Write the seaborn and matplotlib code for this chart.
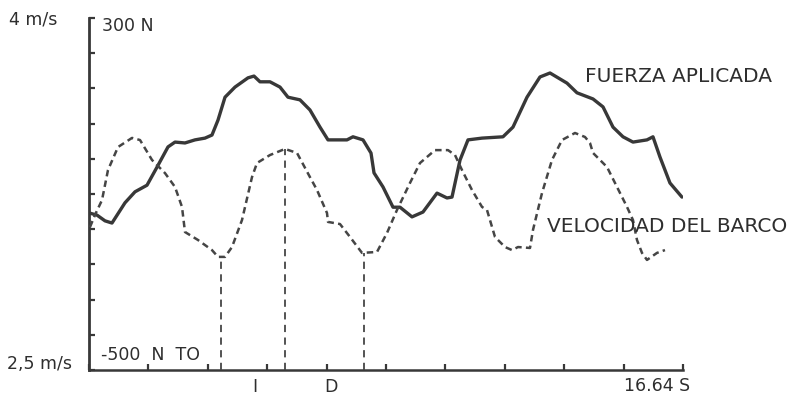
import numpy as np
import matplotlib
matplotlib.use("Agg")
import matplotlib.pyplot as plt
import seaborn as sns

sns.set_theme(style="white")
plt.rcParams['font.family'] = ['DejaVu Sans']

# force curve (s, N)
force_t = [0.00, 0.224, 0.448, 0.644, 1.008, 1.289, 1.625, 1.905, 2.213, 2.409,
           2.689, 2.969, 3.249, 3.445, 3.614, 3.810, 4.090, 4.454, 4.622, 4.790,
           5.070, 5.350, 5.574, 5.910, 6.190, 6.471, 6.695, 6.975, 7.227, 7.395,
           7.676, 7.900, 7.984, 8.236, 8.516, 8.712, 9.048, 9.356, 9.749, 10.029,
           10.169, 10.393, 10.617, 11.009, 11.597, 11.877, 12.270, 12.634, 12.914, 13.390,
           13.670, 14.119, 14.399, 14.679, 14.959, 15.239, 15.631, 15.799, 15.995, 16.275,
           16.611]
force_n = [-143, -148, -161, -166, -120, -95, -80, -39, 7, 18,
           16, 23, 27, 34, 68, 120, 143, 164, 168, 155,
           155, 143, 120, 114, 91, 52, 23, 23, 23, 30,
           23, -7, -52, -84, -130, -130, -152, -141, -98, -109,
           -107, -23, 23, 27, 30, 52, 120, 166, 175, 152,
           130, 116, 98, 52, 30, 18, 23, 30, -16, -75,
           -107]

# boat speed curve (s, m/s)
speed_t = [0.028, 0.168, 0.364, 0.532, 0.812, 1.205, 1.429, 1.765, 2.129, 2.409,
           2.605, 2.689, 3.053, 3.445, 3.614, 3.810, 4.006, 4.286, 4.566, 4.706,
           5.070, 5.490, 5.827, 6.190, 6.387, 6.667, 6.695, 7.031, 7.311, 7.648,
           8.068, 8.348, 8.628, 8.992, 9.272, 9.693, 10.057, 10.253, 10.449, 10.729,
           11.009, 11.149, 11.373, 11.653, 11.850, 12.018, 12.354, 12.438, 12.690, 12.970,
           13.250, 13.614, 13.894, 14.035, 14.119, 14.511, 14.791, 15.071, 15.239, 15.351,
           15.491, 15.631, 15.911, 16.135]
speed_ms = [3.109, 3.161, 3.224, 3.352, 3.450, 3.489, 3.480, 3.395, 3.339, 3.280,
            3.195, 3.088, 3.054, 3.011, 2.982, 2.982, 3.024, 3.139, 3.322, 3.382,
            3.416, 3.442, 3.425, 3.322, 3.267, 3.169, 3.131, 3.122, 3.067, 2.999,
            3.003, 3.084, 3.182, 3.297, 3.382, 3.437, 3.437, 3.416, 3.352, 3.267,
            3.195, 3.182, 3.067, 3.024, 3.011, 3.024, 3.020, 3.097, 3.254, 3.395,
            3.480, 3.510, 3.493, 3.467, 3.425, 3.365, 3.280, 3.195, 3.139, 3.054,
            2.999, 2.969, 2.999, 3.011]

# phase markers dropped to the time axis (TO, I, D)
marker_t = [3.70, 5.49, 7.70]

t_end = 16.64
force_lim = (-500, 300)
speed_lim = (2.5, 4.0)

W, H = 804, 396
fig = plt.figure(figsize=(W / 100, H / 100), dpi=100)
ax = fig.add_axes([89 / W, 26 / H, 594 / W, 352 / H])
ax2 = ax.twinx()

ink = '#383838'
sns.lineplot(x=force_t, y=force_n, ax=ax, color=ink, linewidth=2.4,
             estimator=None, sort=False, solid_joinstyle='round',
             solid_capstyle='round')
sns.lineplot(x=speed_t, y=speed_ms, ax=ax2, color='#454545', linewidth=1.8,
             linestyle=(0, (2.6, 1.7)), estimator=None, sort=False,
             dash_joinstyle='round')

marker_v = np.interp(marker_t, speed_t, speed_ms)
ax2.vlines(marker_t, speed_lim[0], marker_v, colors='#454545',
           linewidth=1.3, linestyles=(0, (4, 3)))

ax.set_xlim(0, t_end)
ax.set_ylim(*force_lim)
ax2.set_ylim(*speed_lim)

ax.set_xticks(np.linspace(0, t_end, 11))
ax.set_yticks(np.linspace(force_lim[0], force_lim[1], 11))
ax.set_xticklabels([])
ax.set_yticklabels([])
ax.tick_params(axis='both', direction='in', length=4, width=1.6, color=ink,
               bottom=True, left=True)
ax2.set_yticks([])
for side in ['top', 'right']:
    ax.spines[side].set_visible(False)
for side in ['top', 'right', 'left', 'bottom']:
    ax2.spines[side].set_visible(False)
ax.spines['left'].set_linewidth(2.0)
ax.spines['bottom'].set_linewidth(1.8)
ax.spines['left'].set_color(ink)
ax.spines['bottom'].set_color(ink)
ax.set_xlabel('')
ax.set_ylabel('')
ax2.set_ylabel('')


def px_text(x, y, s, size, ha='left'):
    fig.text(x / W, 1 - y / H, s, fontsize=size, color='#2e2e2e',
             ha=ha, va='center')


px_text(9, 20, '4 m/s', 12.5)
px_text(102, 26, '300 N', 12.5)
px_text(7, 364, '2,5 m/s', 12.5)
px_text(101, 355, '-500  N  TO', 12.5)
px_text(255, 387, 'I', 12.5, ha='center')
px_text(331, 387, 'D', 12.5, ha='center')
px_text(657, 386, '16.64 S', 12.5, ha='center')
px_text(585, 77, 'FUERZA APLICADA', 14.5)
px_text(547, 227, 'VELOCIDAD DEL BARCO', 14.5)

fig.savefig('out.png', dpi=100, facecolor='white')
